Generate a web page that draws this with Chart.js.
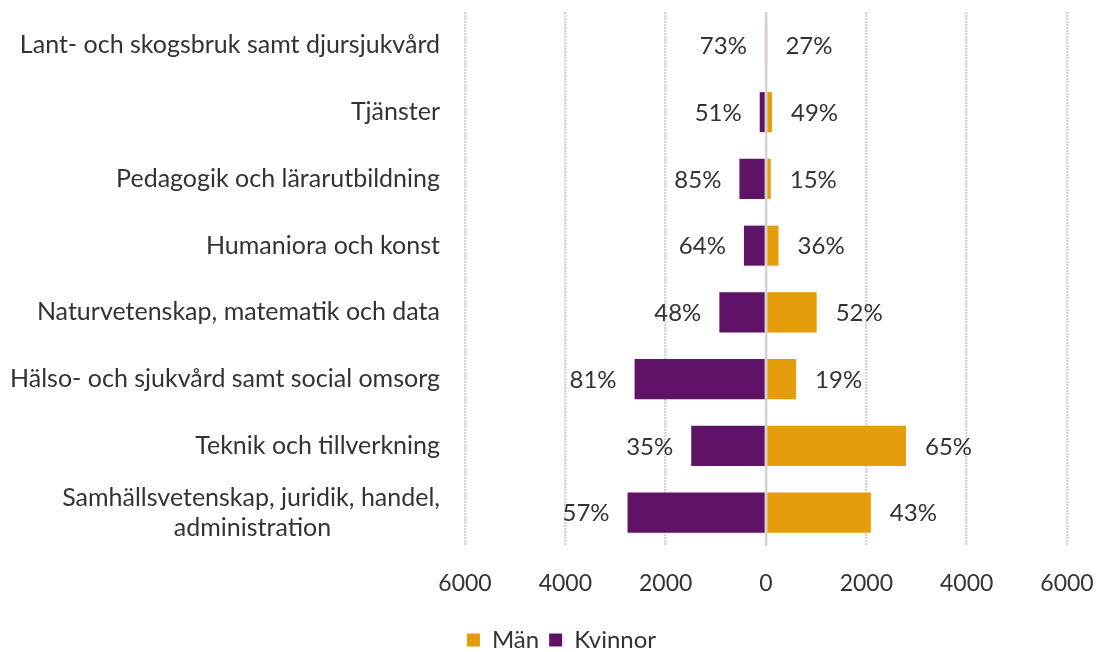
<!DOCTYPE html>
<html>
<head>
<meta charset="utf-8">
<script src="https://cdn.jsdelivr.net/npm/chart.js@4"></script>
<style>
html,body{margin:0;padding:0;background:#fff;}
#wrap{width:1102px;height:652px;}
</style>
</head>
<body>
<div id="wrap"><canvas id="c" width="1102" height="652"></canvas></div>
<script>
const categories = [
  'Lant- och skogsbruk samt djursjukvård',
  'Tjänster',
  'Pedagogik och lärarutbildning',
  'Humaniora och konst',
  'Naturvetenskap, matematik och data',
  'Hälso- och sjukvård samt social omsorg',
  'Teknik och tillverkning',
  'Samhällsvetenskap, juridik, handel,\nadministration'
];
const man = [8, 120, 95, 250, 1010, 600, 2790, 2090];
const kvinnor = [22, 125, 530, 440, 930, 2620, 1490, 2760];
const manPct = ['27%', '49%', '15%', '36%', '52%', '19%', '65%', '43%'];
const kvinnorPct = ['73%', '51%', '85%', '64%', '48%', '81%', '35%', '57%'];
const xTicks = [-6000, -4000, -2000, 0, 2000, 4000, 6000];

const FONT = 'Lato';
const TXT = '#333333';
const ORANGE = '#E59C0B';
const PURPLE = '#601269';
const GRID = '#D3D3D3';
const CAT_FS = 25, PCT_FS = 24, TICK_FS = 23, LEG_FS = 24;

// Build centred multi-line labels (pad shorter lines with no-break spaces)
const mctx = document.createElement('canvas').getContext('2d');
mctx.font = CAT_FS + 'px ' + FONT;
function centredLines(label) {
  const lines = label.split('\n');
  if (lines.length === 1) return label;
  const maxW = Math.max(...lines.map(l => mctx.measureText(l).width));
  const sp = mctx.measureText('\u00A0').width;
  return lines.map(l => {
    const n = Math.round((maxW - mctx.measureText(l).width) / 2 / sp);
    return l + '\u00A0'.repeat(n);
  });
}
const yLabels = categories.map(centredLines);

const legendShift = {
  id: 'legendShift',
  afterLayout(chart) {
    const lg = chart.legend;
    if (lg) { lg.left += 28; lg.right += 28; }
  }
};

const barLabels = {
  id: 'barLabels',
  afterDatasetsDraw(chart) {
    const ctx = chart.ctx;
    ctx.save();
    const xs = chart.scales.x;
    const x0 = xs.getPixelForValue(0);
    ctx.strokeStyle = GRID;
    ctx.lineWidth = 2.4;
    ctx.beginPath();
    ctx.moveTo(x0, chart.chartArea.top);
    ctx.lineTo(x0, chart.chartArea.bottom);
    ctx.stroke();
    ctx.font = PCT_FS + 'px ' + FONT;
    ctx.fillStyle = TXT;
    ctx.textBaseline = 'middle';
    chart.getDatasetMeta(0).data.forEach((el, i) => {
      ctx.textAlign = 'left';
      ctx.fillText(manPct[i], Math.max(el.x, x0) + 19, el.y + 1);
    });
    chart.getDatasetMeta(1).data.forEach((el, i) => {
      ctx.textAlign = 'right';
      ctx.fillText(kvinnorPct[i], Math.min(el.x, x0) - 18, el.y + 1);
    });
    ctx.restore();
  }
};

new Chart(document.getElementById('c'), {
  type: 'bar',
  data: {
    labels: yLabels,
    datasets: [
      { label: 'Män', data: man, backgroundColor: ORANGE, borderWidth: 0 },
      { label: 'Kvinnor', data: kvinnor.map(v => -v), backgroundColor: PURPLE, borderWidth: 0 }
    ]
  },
  options: {
    indexAxis: 'y',
    responsive: false,
    animation: false,
    layout: { padding: { top: 12, right: 35, left: 0, bottom: -10 } },
    datasets: { bar: { categoryPercentage: 1, barPercentage: 0.6 } },
    scales: {
      x: {
        stacked: true,
        min: -6000, max: 6000,
        afterBuildTicks(scale) { scale.ticks = xTicks.map(v => ({ value: v })); },
        afterFit(scale) {
          scale.height = 72;
          scale.paddingLeft = 0;
          scale.paddingRight = 0;
        },
        ticks: {
          callback: v => String(Math.abs(v)),
          font: { family: FONT, size: TICK_FS },
          color: TXT,
          padding: 24,
          maxRotation: 0
        },
        grid: { color: GRID, lineWidth: 2.4, drawTicks: false },
        border: { display: false, dash: [2, 1] }
      },
      y: {
        stacked: true,
        afterFit(scale) {
          scale.width = 465;
          scale.paddingTop = 0;
          scale.paddingBottom = 0;
        },
        ticks: {
          font: { family: FONT, size: CAT_FS },
          color: TXT,
          padding: 25,
          autoSkip: false
        },
        grid: { display: false, drawTicks: false },
        border: { display: false }
      }
    },
    plugins: {
      tooltip: { enabled: false },
      legend: {
        position: 'bottom',
        labels: {
          font: { family: FONT, size: LEG_FS },
          color: TXT,
          boxWidth: 13,
          boxHeight: 13,
          padding: 10
        }
      }
    }
  },
  plugins: [barLabels, legendShift]
});
</script>
</body>
</html>
